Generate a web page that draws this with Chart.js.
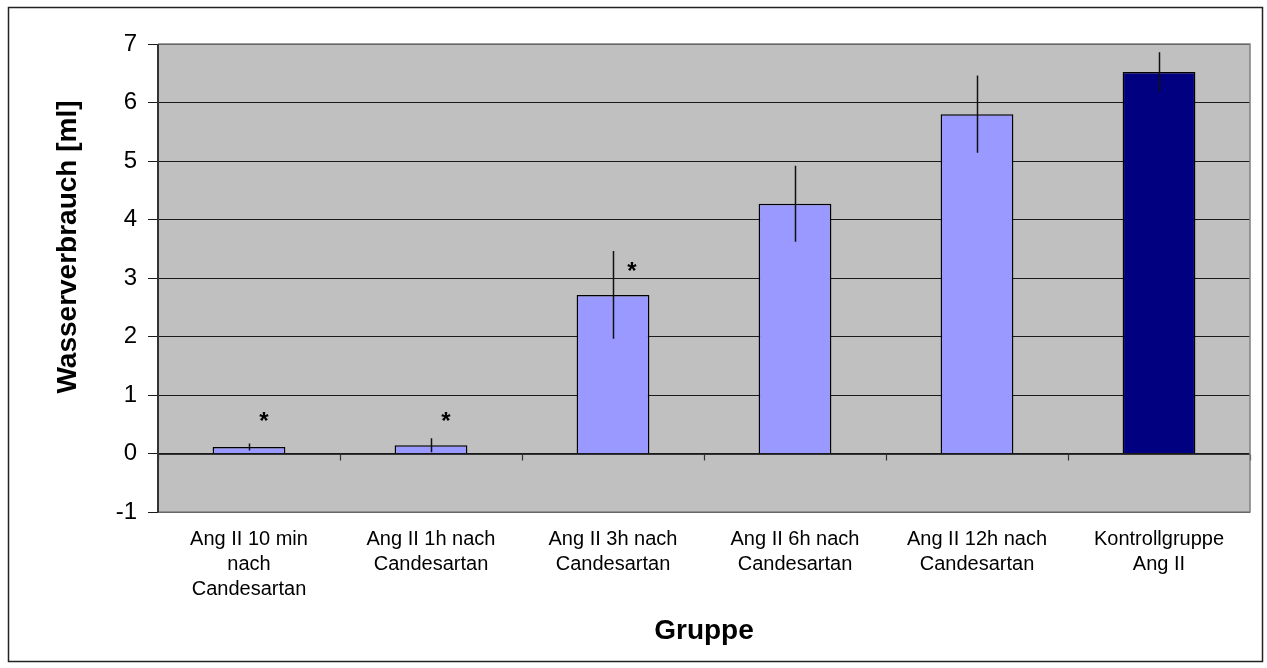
<!DOCTYPE html>
<html>
<head>
<meta charset="utf-8">
<script src="https://cdn.jsdelivr.net/npm/chart.js@4"></script>
<style>
body{margin:0;background:#fff;}
#wrap{width:1267px;height:668px;position:relative;}
</style>
</head>
<body>
<div id="wrap"><canvas id="myChart" width="1267" height="668"></canvas></div>
<script>
// data
let groups=[
    ['Ang II 10 min','nach','Candesartan'],
    ['Ang II 1h nach','Candesartan'],
    ['Ang II 3h nach','Candesartan'],
    ['Ang II 6h nach','Candesartan'],
    ['Ang II 12h nach','Candesartan'],
    ['Kontrollgruppe','Ang II']
]
let water=[0.11,0.14,2.71,4.27,5.80,6.52]
let errors=[0.06,0.12,0.75,0.65,0.66,0.34]
let stars=[0.65,0.65,3.22,null,null,null]
let yTicks=[-1,0,1,2,3,4,5,6,7]
let barColors=['#9999FF','#9999FF','#9999FF','#9999FF','#9999FF','#000080']
let yTitle='Wasserverbrauch [ml]'

// gray plot background + frame
const plotArea={
    id:'plotArea',
    beforeDraw(chart){
        const {ctx,chartArea:a}=chart;
        ctx.save();
        ctx.fillStyle='#C0C0C0';
        ctx.fillRect(a.left,a.top,a.right-a.left,a.bottom-a.top);
        ctx.restore();
    },
    afterDraw(chart){
        const {ctx,chartArea:a}=chart;
        ctx.save();
        ctx.strokeStyle='#808080';
        ctx.lineWidth=1.5;
        ctx.beginPath();
        ctx.moveTo(a.left,a.top);ctx.lineTo(a.right,a.top);ctx.lineTo(a.right,a.bottom);ctx.lineTo(a.left,a.bottom);
        ctx.stroke();
        ctx.strokeStyle='#333';
        ctx.lineWidth=2;
        ctx.beginPath();
        ctx.moveTo(a.left,a.top);ctx.lineTo(a.left,a.bottom);
        ctx.stroke();
        // outer border
        ctx.strokeStyle='#222';
        ctx.lineWidth=1.5;
        ctx.strokeRect(8.5,7.5,1254,654);
        // y axis title (sits a bit above the axis middle, like the original)
        ctx.translate(68,247);
        ctx.rotate(-Math.PI/2);
        ctx.fillStyle='#000';
        ctx.font='bold 28px Arial, "Liberation Sans"';
        ctx.textAlign='center';
        ctx.textBaseline='middle';
        ctx.fillText(yTitle,0,0);
        ctx.restore();
    }
}

// zero axis with ticks, error bars, asterisks
const extras={
    id:'extras',
    afterDatasetsDraw(chart){
        const {ctx,chartArea:a,scales:{x,y}}=chart;
        const y0=Math.round(y.getPixelForValue(0))+0.5;
        const step=x.getPixelForValue(1)-x.getPixelForValue(0);
        ctx.save();
        ctx.strokeStyle='#333';
        ctx.lineWidth=1.2;
        ctx.beginPath();
        ctx.moveTo(a.left,y0);ctx.lineTo(a.right,y0);
        for(let i=0;i<=groups.length;i++){
            let px=Math.round(x.getPixelForValue(0)-step/2+i*step)+0.5;
            ctx.moveTo(px,y0);ctx.lineTo(px,y0+6);
        }
        ctx.stroke();

        ctx.strokeStyle='#111';
        ctx.lineWidth=1.5;
        ctx.beginPath();
        water.forEach((v,i)=>{
            let px=Math.round(x.getPixelForValue(i))+0.5;
            ctx.moveTo(px,y.getPixelForValue(v+errors[i]));
            ctx.lineTo(px,y.getPixelForValue(v-errors[i]));
        });
        ctx.stroke();

        ctx.fillStyle='#000';
        ctx.font='bold 24px Arial, "Liberation Sans"';
        ctx.textAlign='center';
        ctx.textBaseline='middle';
        stars.forEach((s,i)=>{
            if(s==null) return;
            let off=i==2?19:15;
            ctx.fillText('*',x.getPixelForValue(i)+off,y.getPixelForValue(s)+7);
        });
        ctx.restore();
    }
}

var ctx=document.getElementById('myChart').getContext('2d');
var myChart=new Chart(ctx,{
    type:'bar',
    data:{
        labels:groups,
        datasets:[{
            label:'Wasserverbrauch',
            data:water,
            backgroundColor:barColors,
            borderColor:'#000',
            borderWidth:1.5,
            categoryPercentage:1,
            barPercentage:0.4
        }]
    },
    options:{
        responsive:false,
        animation:false,
        layout:{padding:{top:44,right:17,bottom:0,left:0}},
        plugins:{legend:{display:false},tooltip:{enabled:false}},
        scales:{
            x:{
                grid:{display:false,drawTicks:false},
                border:{display:false},
                ticks:{
                    color:'#000',
                    padding:15,
                    maxRotation:0,
                    autoSkip:false,
                    font:{family:'Arial, "Liberation Sans"',size:20,lineHeight:1.24}
                },
                title:{
                    display:true,
                    text:'Gruppe',
                    color:'#000',
                    font:{family:'Arial, "Liberation Sans"',size:28,weight:'bold'},
                    padding:{top:0,bottom:20}
                },
                afterFit(scale){scale.height=156;}
            },
            y:{
                min:-1,
                max:7,
                afterBuildTicks(scale){scale.ticks=yTicks.map(v=>({value:v}));},
                grid:{color:'#1a1a1a',lineWidth:1,tickLength:10,drawTicks:true},
                border:{display:false},
                ticks:{
                    color:'#000',
                    padding:11,
                    font:{family:'Arial, "Liberation Sans"',size:24}
                },
                title:{display:false},
                afterFit(scale){scale.width=158;}
            }
        }
    },
    plugins:[plotArea,extras]
});
</script>
</body>
</html>
